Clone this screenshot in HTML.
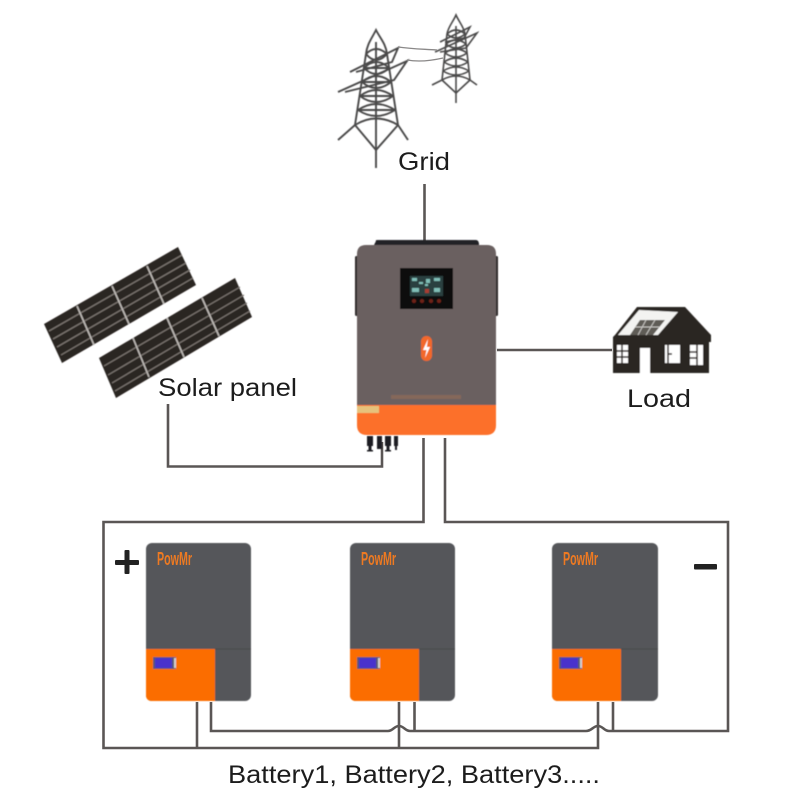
<!DOCTYPE html>
<html><head><meta charset="utf-8"><style>
html,body{margin:0;padding:0;background:#fff;width:803px;height:803px;overflow:hidden}
svg{display:block}
text{font-family:"Liberation Sans",sans-serif;fill:#1c1c1c}
</style></head><body>
<svg width="803" height="803" viewBox="0 0 803 803" xmlns="http://www.w3.org/2000/svg">
<defs>
<filter id="b" x="-5%" y="-5%" width="110%" height="110%"><feGaussianBlur stdDeviation="0.6"/></filter>
<filter id="b2" x="-5%" y="-5%" width="110%" height="110%"><feGaussianBlur stdDeviation="0.3"/></filter>
<filter id="b3" x="-5%" y="-5%" width="110%" height="110%"><feGaussianBlur stdDeviation="0.45"/></filter>
</defs>
<rect width="803" height="803" fill="#fff"/>

<!-- Wires -->
<g fill="none" stroke="#5a5755" stroke-width="2.600" filter="url(#b2)">
<path d="M424.500 184V242"/>
<path d="M497 350H612"/>
<path d="M168 404V466.500H382V442"/>
<path d="M423.500 438V522H103.500V748H598V702"/>
<path d="M445 438V522H728V731H609C604 731 603 726 598 726C593 726 592 731 586 731H410C405 731 404 726 399 726C394 726 393 731 388 731H211V702"/>
<path d="M197 702V748"/>
<path d="M399 702V748"/>
<path d="M414.500 702V731"/>
<path d="M613 702V731"/>
</g>

<!-- Tower large -->
<g fill="none" stroke="#4a4848" stroke-width="1.900" filter="url(#b3)">
<path d="M376 30C372 38 367 44 366 54L355 125L376 150L398 125L387 54C386 44 380 38 376 30Z"/>
<path d="M376 150V168M355 125L338 140M398 125L408 140"/>
<path d="M350 72L398 48L392 62L356 72M338 92L407 61L394 80L345 92"/>
<path d="M366 54Q376 44 387 54M366 54Q376 66 387 54M364 68Q376 56 389 68M364 68Q376 80 389 68M362 82Q376 70 391 82M362 82Q376 94 391 82M360 96Q376 84 393 96M360 96Q376 108 393 96M358 110Q376 98 395 110M358 110Q376 122 395 110M355 125Q376 112 398 125"/>
<path d="M376 42V150"/>
<path d="M364 68H389M362 82H391M360 96H393M358 110H395"/>
</g>
<!-- Tower small -->
<g fill="none" stroke="#4a4848" stroke-width="1.600" filter="url(#b3)">
<path d="M456 15C453 22 448 27 447 34L442 80L456 93L470 80L465 34C464 27 459 22 456 15Z"/>
<path d="M456 93V103M442 80L432 85M470 80L477 85"/>
<path d="M440 42L470 27L464 38L445 42M435 52L477 33L466 48L440 52"/>
<path d="M447 34Q456 26 465 34M447 34Q456 42 465 34M446 44Q456 36 466 44M446 44Q456 52 466 44M445 53Q456 45 467 53M445 53Q456 61 467 53M444 62Q456 54 468 62M444 62Q456 70 468 62M443 71Q456 63 469 71M443 71Q456 79 469 71M442 80Q456 72 470 80"/>
<path d="M456 26V93"/>
</g>
<path d="M398 47C412 49 422 49 437 50M407 60C418 62 430 61 443 58" fill="none" stroke="#8a8888" stroke-width="1.300" filter="url(#b2)"/>

<!-- Solar panels -->
<g filter="url(#b)">
<polygon points="178,247 196,285 62,363 44,324" fill="#2c2624"/>
<polygon points="235,278 252,317 116,398 99,358" fill="#2c2624"/>
<g stroke="#7a746f" stroke-width="1.300">
<path d="M49 331L182 255M53 339L186 263M57 347L190 270M61 355L193 278"/>
<path d="M104 366L240 287M108 375L244 295M112 383L247 303M115 391L250 311"/>
</g>
<g stroke="#bdb9b5" stroke-width="1.600">
<path d="M77 306L94 345M112 286L129 324M147 266L164 304"/>
<path d="M133 338L149 377M167 318L184 357M202 298L219 336"/>
</g>
</g>

<!-- Inverter -->
<g filter="url(#b)">
<path d="M376 241Q375 240 378 240H476Q479 240 479 245H374Z" fill="#242326"/>
<rect x="355" y="256" width="4" height="60" rx="1.500" fill="#2d2b2c"/>
<rect x="494" y="256" width="4" height="60" rx="1.500" fill="#2d2b2c"/>
<path d="M366 245H487Q496 245 496 254V405H357V254Q357 245 366 245Z" fill="#6a6160"/>
<path d="M357 405H496V425Q496 435 486 435H367Q357 435 357 425Z" fill="#fc6f2b"/>
<rect x="357" y="406" width="22" height="7" fill="#e6c27c"/>
<rect x="400" y="268" width="53" height="41" fill="#0c0a0f"/>
<rect x="410" y="276" width="33" height="20" fill="#2c3f40"/>
<g fill="#7fbdb6"><rect x="412" y="278" width="5" height="3"/><rect x="419" y="282" width="4" height="2"/><rect x="426" y="279" width="4" height="4"/><rect x="434" y="278" width="6" height="3"/><rect x="412" y="288" width="7" height="4"/><rect x="434" y="288" width="6" height="4"/><rect x="425" y="284" width="3" height="2"/></g>
<rect x="425" y="289" width="4" height="4" fill="#a83c33"/>
<g fill="#6e2219"><circle cx="414" cy="301" r="2"/><circle cx="422" cy="301" r="2"/><circle cx="431" cy="301" r="2"/><circle cx="439" cy="301" r="2"/></g>
<rect x="421" y="336" width="11" height="25" rx="5.500" fill="#f2682c"/>
<polygon points="428,339 423,350 426.500,350 425,358 430,347 426.800,347" fill="#fff"/>
<rect x="391" y="395" width="70" height="4" fill="#85675a"/>
<g fill="#1f1f22">
<rect x="367" y="436" width="6" height="10"/><rect x="368.500" y="446" width="3" height="5"/><rect x="367" y="450" width="6" height="1.500"/>
<rect x="377" y="436" width="5" height="13"/>
<rect x="385" y="436" width="6" height="10"/><rect x="386.500" y="446" width="3" height="5"/><rect x="385" y="450" width="6" height="1.500"/>
<rect x="394" y="436" width="4" height="10"/><rect x="395" y="446" width="2" height="4"/>
</g>
</g>

<!-- House -->
<g filter="url(#b)">
<polygon points="637,307 685,307 711,335 711,342 709,342 709,373 613,373 613,337 615,335" fill="#2c2624"/>
<polygon points="639,310 678,312 658,335 618,335" fill="#f3f3f1"/>
<polygon points="640,320 665,320 653,335 630,335" fill="#5e5b57"/>
<path d="M635 327H660M646 320L638 335M655 320L646 335" stroke="#c8c6c2" stroke-width="1"/>
<g fill="#fff">
<rect x="617" y="345" width="11" height="18"/>
<rect x="640" y="348" width="10" height="25"/>
<rect x="665" y="345" width="15" height="18"/>
<rect x="690" y="345" width="13" height="20"/>
</g>
<path d="M622 345V363M617 351H628M617 357H628M668 345V363M668 354H672M697 345V365M690 352H697M690 358H697" stroke="#2c2624" stroke-width="1.500"/>
</g>

<!-- Battery 1 -->
<g filter="url(#b)">
<rect x="146" y="543" width="105" height="158" rx="6" fill="#54565a"/>
<path d="M146 649H215V701H152Q146 701 146 695Z" fill="#fb6d05"/>
<path d="M215 649H251" stroke="#46484b" stroke-width="1"/>
<rect x="153" y="657" width="23" height="12" fill="#5a5a72"/>
<rect x="155" y="658" width="17" height="10" fill="#4a33cc"/>
<rect x="174" y="658" width="2" height="10" fill="#cfcfcf"/>
</g>
<!-- Battery 2 -->
<g filter="url(#b)" transform="translate(204 0)">
<rect x="146" y="543" width="105" height="158" rx="6" fill="#54565a"/>
<path d="M146 649H215V701H152Q146 701 146 695Z" fill="#fb6d05"/>
<path d="M215 649H251" stroke="#46484b" stroke-width="1"/>
<rect x="153" y="657" width="23" height="12" fill="#5a5a72"/>
<rect x="155" y="658" width="17" height="10" fill="#4a33cc"/>
<rect x="174" y="658" width="2" height="10" fill="#cfcfcf"/>
</g>
<!-- Battery 3 -->
<g filter="url(#b)" transform="translate(406 0)">
<rect x="146" y="543" width="106" height="158" rx="6" fill="#54565a"/>
<path d="M146 649H215V701H152Q146 701 146 695Z" fill="#fb6d05"/>
<path d="M215 649H252" stroke="#46484b" stroke-width="1"/>
<rect x="153" y="657" width="23" height="12" fill="#5a5a72"/>
<rect x="155" y="658" width="17" height="10" fill="#4a33cc"/>
<rect x="174" y="658" width="2" height="10" fill="#cfcfcf"/>
</g>

<g font-size="18">
<text x="157" y="565" textLength="35" lengthAdjust="spacingAndGlyphs" style="fill:#ee7a22;font-weight:bold">PowMr</text>
<text x="361" y="565" textLength="35" lengthAdjust="spacingAndGlyphs" style="fill:#ee7a22;font-weight:bold">PowMr</text>
<text x="563" y="565" textLength="35" lengthAdjust="spacingAndGlyphs" style="fill:#ee7a22;font-weight:bold">PowMr</text>
</g>

<!-- Plus / minus -->
<g fill="#232323" filter="url(#b2)">
<rect x="115" y="560" width="24" height="5" rx="1"/>
<rect x="124.500" y="550" width="5" height="24" rx="1"/>
<rect x="694" y="564" width="23" height="5.500" rx="1"/>
</g>

<!-- Labels -->
<g font-size="25">
<text x="398" y="170" textLength="52" lengthAdjust="spacingAndGlyphs">Grid</text>
<text x="158" y="396" textLength="139" lengthAdjust="spacingAndGlyphs">Solar panel</text>
<text x="627" y="407" textLength="64" lengthAdjust="spacingAndGlyphs">Load</text>
<text x="228" y="783" textLength="372" lengthAdjust="spacingAndGlyphs">Battery1, Battery2, Battery3.....</text>
</g>
</svg>
</body></html>
